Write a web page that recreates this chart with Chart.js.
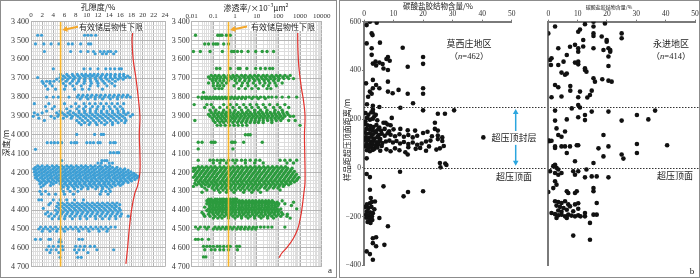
<!DOCTYPE html>
<html>
<head>
<meta charset="utf-8">
<script src="https://cdn.jsdelivr.net/npm/chart.js@4.4.1/dist/chart.umd.min.js"></script>
<style>
  body { margin: 0; background: #fff; }
  #wrap { position: relative; width: 700px; height: 278px; overflow: hidden; font-family: "Noto Sans CJK SC", sans-serif; color: #222; }
  canvas { position: absolute; top: 0; }
  .frame { position: absolute; top: 0; height: 278px; border: 1.5px solid #8c8c8c; box-sizing: border-box; pointer-events: none; }
  .t { position: absolute; white-space: nowrap; line-height: 1; transform: translate(-50%, -50%); }
  .num { font-family: "Liberation Serif", serif; }
  .ptick { position: absolute; top: 16px; font: 7px "Liberation Serif", serif; color: #333; line-height: 1; transform: translate(-50%, -50%); white-space: nowrap; }
</style>
</head>
<body>
<div id="wrap">
  <canvas id="poro" width="170" height="278" style="left:0"></canvas>
  <canvas id="perm" width="170" height="278" style="left:168px"></canvas>
  <canvas id="moxi" width="361" height="278" style="left:339px"></canvas>
  <canvas id="yong" width="180" height="278" style="left:520px"></canvas>

  <div class="frame" style="left:0;width:337px"></div>
  <div class="frame" style="left:339px;width:361px"></div>

  <div class="t" style="left:98px;top:7px;font-size:8px">孔隙度/%</div>
  <div class="t" style="left:256px;top:7px;font-size:8px">渗透率/×10<sup style="font-size:5px">−3</sup>μm<sup style="font-size:5px">2</sup></div>
  <div class="t" style="left:6px;top:143px;font-size:8px;transform:translate(-50%,-50%) rotate(-90deg)">深度/m</div>
  <div class="t" style="left:111px;top:27px;font-size:8px;background:#fff;padding:0 1px">有效储层物性下限</div>
  <div class="t" style="left:283px;top:27px;font-size:8px;background:#fff;padding:0 1px">有效储层物性下限</div>
  <div class="t num" style="left:330px;top:270px;font-size:9px">a</div>

  <div class="t" style="left:438px;top:6px;font-size:7.5px">碳酸盐胶结物含量/%</div>
  <div class="t" style="left:609px;top:6px;font-size:5px">碳酸盐胶结物含量/%</div>
  <div class="t" style="left:347px;top:140px;font-size:8px;transform:translate(-50%,-50%) rotate(-90deg)">样品距超压顶面距离/m</div>
  <div class="t" style="left:469px;top:43px;font-size:9px">莫西庄地区</div>
  <div class="t" style="left:469px;top:56px;font-size:8.5px">（<i class="num">n</i><span class="num">=462</span>）</div>
  <div class="t" style="left:671px;top:43px;font-size:9px">永进地区</div>
  <div class="t" style="left:671px;top:56px;font-size:8.5px">（<i class="num">n</i><span class="num">=414</span>）</div>
  <div class="t" style="left:514px;top:137px;font-size:9px">超压顶封层</div>
  <div class="t" style="left:514px;top:176px;font-size:9px">超压顶面</div>
  <div class="t" style="left:675px;top:175px;font-size:9px">超压顶面</div>
  <div class="t num" style="left:692px;top:271px;font-size:9px">b</div>
</div>

<script>
// 孔隙度 (%) : [深度, [孔隙度...]]
const poroRows = [
  [3472, [1.2, 1.9, 9.6, 10.2, 10.8, 11.6]],
  [3518, [0.8, 2.3, 3.6, 5.0, 6.7, 7.4, 8.9, 10.3, 10.7]],
  [3558, [2.4, 7.1, 8.9, 10.2, 11.2, 12.4, 13.1, 13.8, 14.3, 15.2]],
  [3570, [11.5, 12.8, 13.5, 14.8]],
  [3650, [4.0, 9.5, 10.6, 12.0, 13.4, 14.2, 15.0, 15.8, 16.2]],
  [3680, [5.3, 6.4, 7.4, 8.3, 9.1, 9.8, 10.6, 11.3, 12.0, 12.8, 13.6, 14.3, 15.1, 15.9, 16.6]],
  [3688, [5.8, 6.7, 7.6, 8.5, 9.4, 10.2, 11.0, 11.8, 12.6, 13.4, 14.2, 15.0, 15.8, 16.6, 17.3]],
  [3696, [1.2, 5.2, 6.1, 7.0, 7.9, 8.8, 9.7, 10.6, 11.5, 12.4, 13.3, 14.2, 15.1, 16.0, 16.9, 17.7]],
  [3705, [4.6, 5.6, 6.6, 7.6, 8.6, 9.6, 10.6, 11.6, 12.6, 13.6, 14.6, 15.6, 16.5]],
  [3716, [2.0, 2.8, 3.4, 4.1, 5.2, 6.3, 7.4, 8.5, 9.6, 10.7, 11.8, 12.9, 14.0, 15.1]],
  [3727, [2.2, 3.4, 5.8, 7.0, 8.2, 9.5, 10.8, 12.0, 13.2, 14.5]],
  [3740, [2.6, 3.8, 6.2, 7.5, 9.0, 10.6, 12.0, 13.6, 15.0]],
  [3758, [3.0, 4.4, 6.0, 7.8, 9.2, 10.4, 12.8]],
  [3790, [8.5, 9.3, 10.1, 10.9, 11.7, 12.5, 13.3, 14.1, 14.9, 15.7, 16.5, 17.3]],
  [3800, [2.8, 4.0, 4.9, 6.8, 8.3, 9.1, 9.9, 10.7, 11.5, 12.3, 13.1, 13.9, 14.7, 15.5, 16.3, 17.1, 17.8]],
  [3810, [8.8, 10.2, 11.5, 12.8, 14.2, 15.5]],
  [3835, [0.6, 3.2, 6.0, 8.0, 9.5, 10.5, 11.5, 12.5, 13.5, 14.5, 15.5, 16.6]],
  [3850, [2.6, 4.2, 7.2, 8.6, 9.8, 11.0, 12.0, 13.0, 14.0, 15.0, 16.0]],
  [3862, [3.8, 6.4, 8.2, 9.4, 10.6, 11.8, 13.0, 14.2, 15.4, 16.4]],
  [3874, [2.8, 5.2, 7.0, 8.6, 9.6, 10.6, 11.6, 12.6, 13.6, 14.6, 15.6, 16.6]],
  [3884, [0.6, 2.0, 4.6, 5.6, 6.6, 7.6, 8.6, 9.6, 10.6, 11.6, 12.6, 13.6, 14.6, 15.6, 16.6, 17.4]],
  [3893, [1.2, 5.0, 6.0, 7.0, 8.0, 9.0, 10.0, 11.0, 12.0, 13.0, 14.0, 15.0, 16.0, 17.0, 18.2]],
  [3902, [0.4, 3.6, 4.8, 6.4, 7.4, 8.4, 9.4, 10.4, 11.4, 12.4, 13.4, 14.4, 15.4, 16.4, 17.8]],
  [3912, [1.4, 4.2, 5.8, 7.2, 8.8, 9.8, 10.8, 11.8, 12.8, 13.8, 14.8, 15.8, 16.8]],
  [3924, [2.4, 8.2, 9.2, 10.2, 11.2, 12.2, 13.2, 14.2, 15.2, 16.2, 17.0]],
  [3936, [8.6, 9.6, 10.6, 11.6, 12.6, 13.6, 14.6, 15.6, 16.8]],
  [3946, [9.0, 10.4, 11.8, 13.2, 14.6]],
  [3998, [8.2, 11.4, 12.6, 13.0]],
  [4042, [2.9, 3.6, 4.2, 4.8, 5.5, 7.2, 7.8, 8.2, 10.0, 10.6, 11.2, 12.0, 12.4, 14.2, 14.8, 15.1]],
  [4077, [0.8]],
  [4095, [14.2, 14.8, 15.4, 15.7]],
  [4137, [5.5, 12.7, 13.2, 13.6]],
  [4150, [12.0, 12.6, 14.0, 14.6]],
  [4165, [1.2, 2.0, 2.9, 3.8, 4.6, 5.5, 6.4, 7.2, 8.1, 9.0, 9.8, 10.7, 11.5, 12.4, 13.3, 14.1]],
  [4173, [0.8, 1.6, 2.5, 3.3, 4.2, 5.0, 5.9, 6.8, 7.6, 8.5, 9.4, 10.2, 11.1, 12.0, 12.8, 13.7, 14.6, 15.4]],
  [4181, [0.5, 1.3, 2.1, 3.0, 3.9, 4.7, 5.6, 6.4, 7.3, 8.2, 9.0, 9.9, 10.8, 11.6, 12.5, 13.4, 14.2, 15.1, 16.0, 16.8]],
  [4189, [0.9, 1.8, 2.6, 3.5, 4.4, 5.2, 6.1, 7.0, 7.8, 8.7, 9.6, 10.4, 11.3, 12.2, 13.0, 13.9, 14.8, 15.6, 16.5, 17.4]],
  [4197, [0.6, 1.4, 2.3, 3.1, 4.0, 4.9, 5.7, 6.6, 7.5, 8.3, 9.2, 10.1, 10.9, 11.8, 12.7, 13.5, 14.4, 15.3, 16.1, 17.0, 17.9]],
  [4205, [1.0, 1.9, 2.8, 3.6, 4.5, 5.4, 6.2, 7.1, 8.0, 8.8, 9.7, 10.6, 11.4, 12.3, 13.2, 14.0, 14.9, 15.8, 16.6, 17.5, 18.4]],
  [4213, [0.7, 1.5, 2.4, 3.3, 4.1, 5.0, 5.9, 6.7, 7.6, 8.5, 9.3, 10.2, 11.1, 11.9, 12.8, 13.7, 14.5, 15.4, 16.3, 17.1, 18.0, 18.8]],
  [4221, [1.1, 2.0, 2.9, 3.7, 4.6, 5.5, 6.3, 7.2, 8.1, 8.9, 9.8, 10.7, 11.5, 12.4, 13.3, 14.1, 15.0, 15.9, 16.7, 17.6, 18.5, 19.2]],
  [4229, [0.8, 1.7, 2.5, 3.4, 4.3, 5.1, 6.0, 6.9, 7.7, 8.6, 9.5, 10.3, 11.2, 12.1, 12.9, 13.8, 14.7, 15.5, 16.4, 17.3, 18.1, 19.0]],
  [4237, [1.2, 2.1, 3.0, 3.8, 4.7, 5.6, 6.4, 7.3, 8.2, 9.0, 9.9, 10.8, 11.6, 12.5, 13.4, 14.2, 15.1, 16.0, 16.8, 17.7, 18.6]],
  [4245, [1.5, 2.4, 3.2, 4.1, 5.0, 5.8, 6.7, 7.6, 8.4, 9.3, 10.2, 11.0, 11.9, 12.8, 13.6, 14.5, 15.4, 16.2, 17.1, 18.0]],
  [4253, [1.9, 2.8, 3.6, 4.5, 5.4, 6.2, 7.1, 8.0, 8.8, 9.7, 10.6, 11.4, 12.3, 13.2, 14.0, 14.9, 15.8, 16.6, 17.4]],
  [4261, [1.6, 2.5, 4.0, 5.2, 6.0, 6.9, 7.8, 8.6, 9.5, 10.4, 11.2, 12.1, 13.0, 13.8, 14.7, 15.6, 16.4]],
  [4269, [2.2, 3.5, 5.5, 6.4, 7.3, 8.1, 9.0, 9.9, 10.7, 11.6, 12.5, 13.3, 14.2, 15.1, 16.0]],
  [4277, [1.8, 5.8, 6.7, 7.6, 8.4, 9.3, 10.2, 11.0, 11.9, 12.8, 13.6, 14.5]],
  [4287, [5.4, 6.6, 7.8, 9.0, 10.2, 11.6, 12.8, 14.0]],
  [4300, [1.6, 2.6, 5.8, 7.0, 8.4, 12.6, 13.4, 14.2]],
  [4315, [1.9, 3.2, 4.4, 6.0, 7.6, 12.4, 13.8]],
  [4345, [1.4, 1.9, 4.0, 5.2, 6.4, 7.8, 9.4]],
  [4362, [3.5, 4.8, 5.6, 6.5, 7.4, 8.3, 9.2, 10.1, 11.0, 11.9, 12.8, 13.7, 14.6, 15.4]],
  [4371, [3.2, 5.1, 6.0, 6.9, 7.8, 8.7, 9.6, 10.5, 11.4, 12.3, 13.2, 14.1, 15.0, 15.9]],
  [4380, [4.6, 5.5, 6.4, 7.3, 8.2, 9.1, 10.0, 10.9, 11.8, 12.7, 13.6, 14.5, 15.3]],
  [4390, [2.2, 5.0, 5.9, 6.8, 7.7, 8.6, 9.5, 10.4, 11.3, 12.2, 13.1, 14.0, 14.9, 15.8]],
  [4400, [4.4, 5.3, 6.2, 7.1, 8.0, 8.9, 9.8, 10.7, 11.6, 12.5, 13.4, 14.3, 15.2, 16.0]],
  [4410, [3.0, 4.8, 5.7, 6.6, 7.5, 8.4, 9.3, 10.2, 11.1, 12.0, 12.9, 13.8, 14.7, 15.6]],
  [4420, [2.6, 3.6, 4.6, 5.5, 6.4, 7.3, 8.2, 9.1, 10.0, 10.9, 11.8, 12.7, 13.6, 14.5, 15.4, 16.2]],
  [4432, [3.2, 4.2, 5.2, 6.1, 7.0, 7.9, 8.8, 9.7, 10.6, 11.5, 12.4, 13.3, 14.2, 15.1, 16.0, 17.4]],
  [4445, [3.8, 5.0, 6.0, 7.4, 8.8, 10.0, 11.6, 12.8, 14.0, 15.2]],
  [4490, [1.7, 2.6, 3.5, 4.4, 5.3, 6.2, 7.1, 8.0, 8.9, 9.8, 10.7, 11.6, 12.5, 13.4, 14.3, 15.1]],
  [4500, [1.4, 2.2, 3.0, 3.9, 4.8, 5.7, 6.6, 7.5, 8.4, 9.3, 10.2, 11.1, 12.0, 12.9, 13.8]],
  [4512, [2.0, 3.4, 4.6, 6.0, 8.6, 10.4, 12.2, 13.6]],
  [4555, [0.8, 1.7, 3.2, 3.5, 5.2, 8.6, 9.2]],
  [4568, [5.0, 5.4]],
  [4592, [3.2, 4.0, 4.9, 5.6, 8.0, 8.8, 9.6, 10.6, 11.4]],
  [4610, [2.8, 3.6, 4.5, 5.7, 7.8, 8.6, 9.4, 11.8, 14.8]],
  [4625, [3.4, 5.0, 8.2, 10.2]],
  [4650, [5.2, 8.4, 9.0]]
];

// 渗透率 (×10^-3 μm²) : [深度, [渗透率...]]
const permRows = [
  [3472, [0.015, 0.16, 0.2, 0.25, 0.4, 0.6]],
  [3518, [0.04, 0.06, 0.1, 0.13, 0.16, 0.3, 0.5]],
  [3558, [0.012, 0.025, 0.07, 0.26, 0.7, 0.9, 1.3, 2, 4, 9, 18, 30, 60]],
  [3648, [0.14, 0.2, 0.6, 1.4, 1.7, 3.5, 9, 15, 25, 40, 55]],
  [3685, [0.08, 0.12, 0.18, 0.3, 0.5, 0.8, 1.2, 2, 3, 5, 8, 12, 20, 30, 50, 80, 120, 200, 350]],
  [3693, [0.06, 0.1, 0.15, 0.22, 0.35, 0.6, 0.9, 1.5, 2.5, 4, 6, 10, 16, 25, 40, 60, 100, 160, 260]],
  [3702, [0.07, 0.1, 0.14, 0.2, 0.3, 0.45, 0.7, 1.1, 1.8, 3, 4.5, 7, 11, 18, 28, 45, 70, 110, 180, 300, 500]],
  [3712, [0.09, 0.13, 0.2, 0.3, 0.5, 1, 1.6, 2.8, 4.5, 8, 13, 22, 35, 60, 100]],
  [3725, [0.06, 0.1, 0.16, 0.25, 0.4, 1.2, 2.2, 3.8, 7, 14, 24, 40, 70, 150]],
  [3740, [0.1, 0.15, 0.2, 0.3, 0.9, 2, 4, 9, 20, 35, 80]],
  [3755, [0.12, 0.18, 0.25, 1.5, 3, 6, 12, 30, 45]],
  [3775, [0.035]],
  [3800, [0.02, 0.03, 0.04, 0.05, 0.07, 0.1, 0.13, 0.18, 0.25, 0.35, 0.5, 0.7, 1, 1.5, 2.2, 3.2, 4.5, 7, 10, 15, 22, 35, 50, 80, 150, 300, 700]],
  [3808, [0.03, 0.045, 0.06, 0.08, 0.11, 0.15, 0.2, 0.28, 0.4, 0.6, 0.9, 1.3, 2, 3, 6, 12, 25]],
  [3840, [0.013, 0.05, 0.08, 0.3, 0.6, 1.2, 2.5, 5, 10, 20, 40, 90, 200]],
  [3855, [0.04, 0.1, 0.2, 0.45, 0.8, 1.6, 3.2, 6, 12, 25, 60, 120, 300]],
  [3870, [0.07, 0.13, 0.3, 0.55, 1, 2, 4, 8, 15, 30, 70, 150]],
  [3882, [0.08, 0.12, 0.18, 0.27, 0.4, 0.6, 0.9, 1.4, 2.2, 3.3, 5, 8, 12, 18, 28, 42, 65, 100, 160, 250]],
  [3892, [0.06, 0.1, 0.15, 0.23, 0.35, 0.52, 0.8, 1.2, 1.8, 2.7, 4, 6, 9, 14, 21, 32, 50, 75, 115, 180, 280]],
  [3902, [0.07, 0.11, 0.17, 0.26, 0.4, 0.6, 0.9, 1.35, 2, 3, 4.6, 7, 10.5, 16, 24, 36, 55, 85, 130, 200, 350, 500]],
  [3912, [0.09, 0.14, 0.21, 0.32, 0.5, 0.75, 1.1, 1.7, 2.6, 3.9, 6, 9, 13.5, 20, 30, 46, 70, 105, 160]],
  [3924, [0.014, 0.1, 0.16, 0.25, 0.38, 0.6, 0.95, 1.5, 2.3, 3.5, 5.5, 8.5, 13, 20, 32, 50, 80, 130, 300, 600]],
  [3935, [0.12, 0.2, 0.3, 0.5, 0.8, 1.3, 2, 3.2, 5, 8, 12, 20, 50]],
  [3950, [0.15, 0.22, 0.35, 0.55, 0.9, 1.4, 2.2, 3.5, 1000]],
  [4000, [3, 4, 5]],
  [4040, [0.02, 0.03, 0.08, 0.1, 0.12, 0.7, 0.8, 1, 2.5, 18]],
  [4075, [0.02, 0.8]],
  [4135, [0.02, 0.07, 0.1, 0.15, 0.22, 0.3, 0.5, 0.8, 1.2, 2, 3, 5, 9, 14, 120, 200, 350, 700]],
  [4150, [0.1, 0.2, 0.4, 1, 3, 8, 20, 250, 500]],
  [4170, [0.02, 0.03, 0.048, 0.077, 0.12, 0.2, 0.31, 0.5, 0.8, 1.3, 2, 3.2, 5.1, 8.2, 13, 21, 33, 53, 85, 135, 215]],
  [4178, [0.012, 0.015, 0.024, 0.038, 0.06, 0.097, 0.15, 0.25, 0.39, 0.63, 1, 1.6, 2.5, 4, 6.4, 10, 16, 26, 42, 67, 107, 170, 270, 430]],
  [4186, [0.014, 0.022, 0.035, 0.055, 0.088, 0.14, 0.22, 0.35, 0.56, 0.9, 1.4, 2.2, 3.6, 5.7, 9, 14, 23, 37, 59, 95, 150, 240, 380]],
  [4194, [0.012, 0.019, 0.03, 0.048, 0.077, 0.12, 0.2, 0.31, 0.5, 0.8, 1.3, 2, 3.2, 5.1, 8.2, 13, 21, 33, 53, 85, 135, 215, 345, 550]],
  [4202, [0.017, 0.027, 0.043, 0.068, 0.11, 0.17, 0.28, 0.44, 0.7, 1.1, 1.8, 2.8, 4.5, 7.2, 11.5, 18, 29, 47, 75, 120, 190, 300, 480]],
  [4210, [0.015, 0.024, 0.038, 0.06, 0.097, 0.15, 0.25, 0.39, 0.63, 1, 1.6, 2.5, 4, 6.4, 10, 16, 26, 42, 67, 107, 170, 270, 430, 690]],
  [4218, [0.014, 0.022, 0.035, 0.055, 0.088, 0.14, 0.22, 0.35, 0.56, 0.9, 1.4, 2.2, 3.6, 5.7, 9, 14, 23, 37, 59, 95, 150, 240, 380, 600]],
  [4226, [0.012, 0.019, 0.03, 0.048, 0.077, 0.12, 0.2, 0.31, 0.5, 0.8, 1.3, 2, 3.2, 5.1, 8.2, 13, 21, 33, 53, 85, 135, 215, 345, 550, 880]],
  [4234, [0.017, 0.027, 0.043, 0.068, 0.11, 0.17, 0.28, 0.44, 0.7, 1.1, 1.8, 2.8, 4.5, 7.2, 11.5, 18, 29, 47, 75, 120, 190, 300, 480, 760]],
  [4242, [0.015, 0.024, 0.038, 0.06, 0.097, 0.15, 0.25, 0.39, 0.63, 1, 1.6, 2.5, 4, 6.4, 10, 16, 26, 42, 67, 107, 170, 270, 430, 690]],
  [4250, [0.02, 0.03, 0.048, 0.077, 0.12, 0.2, 0.31, 0.5, 0.8, 1.3, 2, 3.2, 5.1, 8.2, 13, 21, 33, 53, 85, 135, 215, 345, 550]],
  [4258, [0.014, 0.022, 0.035, 0.055, 0.088, 0.14, 0.22, 0.35, 0.56, 0.9, 1.4, 2.2, 3.6, 5.7, 9, 14, 23, 37, 59, 95, 150, 240, 380]],
  [4266, [0.017, 0.027, 0.043, 0.068, 0.11, 0.17, 0.28, 0.44, 0.7, 1.1, 1.8, 2.8, 4.5, 7.2, 11.5, 18, 29, 47, 75, 120, 190, 300]],
  [4274, [0.012, 0.03, 0.06, 0.097, 0.15, 0.25, 0.39, 0.63, 1, 1.6, 2.5, 4, 6.4, 10, 16, 26, 42, 67, 107, 170]],
  [4283, [0.04, 0.088, 0.14, 0.22, 0.35, 0.56, 0.9, 1.4, 2.2, 3.6, 5.7, 9, 14, 23, 37, 59, 95]],
  [4293, [0.05, 0.11, 0.17, 0.28, 0.44, 0.7, 1.1, 1.8, 2.8, 4.5, 7.2, 11.5, 30, 120]],
  [4305, [0.03, 0.2, 0.4, 0.9, 2.5, 6, 15]],
  [4342, [0.06, 0.08, 0.12, 0.15, 0.2, 0.25, 0.3, 0.4, 0.5, 0.6, 0.8, 1, 1.2]],
  [4350, [0.05, 0.07, 0.1, 0.14, 0.2, 0.28, 0.4, 0.56, 0.8, 1.1, 1.6, 2.2, 3.2, 4.5, 6.4, 9, 13, 18, 26, 36, 52, 150]],
  [4358, [0.06, 0.085, 0.12, 0.17, 0.24, 0.34, 0.48, 0.68, 0.96, 1.4, 1.9, 2.7, 3.8, 5.4, 7.6, 11, 15, 22, 31, 44, 62, 88, 500]],
  [4366, [0.05, 0.07, 0.1, 0.14, 0.2, 0.28, 0.4, 0.56, 0.8, 1.1, 1.6, 2.2, 3.2, 4.5, 6.4, 9, 13, 18, 26, 36, 52, 75, 105, 200]],
  [4375, [0.065, 0.09, 0.13, 0.18, 0.26, 0.37, 0.52, 0.74, 1.05, 1.5, 2.1, 3, 4.2, 6, 8.4, 12, 17, 24, 34, 48, 68, 96, 400]],
  [4384, [0.04, 0.07, 0.1, 0.14, 0.2, 0.28, 0.4, 0.56, 0.8, 1.1, 1.6, 2.2, 3.2, 4.5, 6.4, 9, 13, 18, 26, 36, 52, 75]],
  [4393, [0.06, 0.085, 0.12, 0.17, 0.24, 0.34, 0.48, 0.68, 0.96, 1.4, 1.9, 2.7, 3.8, 5.4, 7.6, 11, 15, 22, 31, 44, 62, 88, 130, 700]],
  [4402, [0.05, 0.07, 0.1, 0.14, 0.2, 0.28, 0.4, 0.56, 0.8, 1.1, 1.6, 2.2, 3.2, 4.5, 6.4, 9, 13, 18, 26, 36, 52, 75, 105]],
  [4412, [0.03, 0.065, 0.09, 0.13, 0.18, 0.26, 0.37, 0.52, 0.74, 1.05, 1.5, 2.1, 3, 4.2, 6, 8.4, 12, 17, 24, 34, 48, 68, 96, 140]],
  [4422, [0.035, 0.06, 0.1, 0.16, 0.25, 0.4, 0.64, 1, 1.6, 2.5, 4, 6.4, 10, 16, 25, 40, 64, 100, 160, 260]],
  [4432, [0.04, 0.07, 0.12, 0.2, 0.32, 0.5, 0.8, 1.3, 2, 3.2, 5, 8, 13, 20, 32, 50, 80, 130, 250]],
  [4442, [0.1, 0.16, 0.25, 0.5, 1, 2, 4, 8, 16, 32, 60, 350]],
  [4490, [0.015, 0.025, 0.04, 0.06, 0.12, 0.18, 0.27, 0.4, 0.6, 0.9, 1.4, 2, 3, 4.5, 7, 10, 15, 22, 33, 50, 200]],
  [4500, [0.02, 0.05, 0.1, 0.15, 0.22, 0.35, 0.5, 0.75, 1.2, 1.8, 2.7, 4, 6, 9]],
  [4555, [0.015, 0.02, 0.03, 0.06]],
  [4592, [0.035, 0.05, 0.07, 0.1, 0.15, 0.2, 0.3, 0.45, 0.6, 1.2, 1.6]],
  [4610, [0.04, 0.08, 0.12, 0.2, 0.3, 0.5, 1.3]],
  [4648, [0.035, 0.045]]
];

// 红色曲线
const poroCurve = [[18.2, 3460], [18.1, 3500], [18.3, 3600], [18.8, 3700], [19.2, 3800], [19.5, 3900], [19.4, 4000],
  [19.5, 4100], [19.5, 4200], [19.1, 4270], [18.6, 4310], [18.0, 4400], [17.6, 4500], [17.3, 4600], [17.0, 4685]];
const permCurve = [[780, 3460], [800, 3550], [900, 3650], [1150, 3750], [1450, 3820], [1700, 3900], [1600, 4000],
  [1650, 4100], [1700, 4250], [1500, 4310], [1200, 4400], [1000, 4450], [780, 4500], [490, 4550], [240, 4600], [140, 4630], [110, 4652]];

// 有效储层物性下限
const poroCutoff = 5.3;
const permCutoff = 0.5;

// 碳酸盐胶结物含量(%) vs 距超压顶面距离(m)
const moxiPoints = [
  [2.0, 600], [4.3, 596], [0.9, 586], [2.6, 552], [2.9, 545], [0.9, 511], [5.4, 514], [2.6, 491], [2.6, 464], [3.9, 436],
  [13.1, 493], [8.1, 455], [7.6, 447], [8.7, 440], [3.0, 428], [4.1, 420], [5.2, 432], [6.3, 426], [6.6, 408], [8.1, 402],
  [14.8, 415], [20.0, 455], [20.0, 427],
  [0.7, 347], [3.0, 361], [4.1, 340], [2.0, 313], [3.0, 327], [1.4, 292], [2.6, 304], [5.2, 327], [8.1, 354], [8.1, 313],
  [9.7, 306], [11.7, 320], [14.8, 304], [20.0, 327], [20.0, 304], [16.6, 265], [1.0, 261], [3.0, 255], [5.2, 250],
  [3.0, 240], [3.0, 228], [4.0, 218], [12.3, 247], [20.0, 236], [25.0, 222], [27.4, 222], [30.5, 236], [9.4, 205],
  [7.3, 185], [9.0, 175], [24.0, 185], [24.0, 160],
  [0.5, 225], [1.5, 218], [2.5, 228], [3.5, 212], [1.0, 205], [2.0, 198], [3.0, 202], [4.5, 195], [0.5, 190], [6.6, 185], [8.0, 178],
  [0.3, 180], [1.2, 175], [2.2, 172], [3.2, 168], [4.2, 176], [5.2, 165], [0.8, 160], [1.8, 158], [2.8, 155], [3.8, 150],
  [4.8, 158], [5.8, 152], [7.0, 160], [8.5, 150], [10.0, 158], [12.3, 160], [14.8, 154], [17.3, 153], [25.0, 153],
  [0.3, 145], [1.0, 140], [2.0, 142], [3.0, 138], [4.0, 145], [5.0, 135], [6.0, 140], [7.0, 132], [8.0, 142], [9.0, 136],
  [10.5, 130], [12.0, 138], [13.5, 128], [15.0, 135], [16.5, 125], [18.0, 132], [20.0, 143], [21.5, 148], [23.0, 130],
  [25.0, 133], [26.5, 125], [40.4, 125], [0.5, 125], [1.5, 122], [2.5, 128], [3.5, 120], [4.5, 126], [5.5, 118],
  [0.3, 115], [1.2, 112], [2.2, 108], [3.2, 114], [4.2, 105], [5.2, 110], [6.2, 102], [7.4, 108], [8.6, 112], [9.8, 104],
  [11.0, 110], [12.2, 100], [13.5, 106], [15.0, 98], [16.5, 104], [18.0, 95], [19.5, 100], [21.0, 108], [22.5, 112],
  [25.0, 118], [26.5, 110], [0.8, 98], [1.8, 94], [2.8, 100], [3.8, 92], [4.8, 96], [6.0, 90],
  [0.5, 88], [1.5, 82], [2.5, 86], [3.5, 78], [4.5, 84], [1.0, 72], [2.0, 68], [3.0, 74], [5.5, 70], [7.6, 76], [9.0, 68],
  [10.5, 80], [12.0, 72], [14.0, 64], [15.0, 85], [17.5, 78], [19.0, 82], [21.0, 70], [22.0, 88], [24.5, 75], [25.7, 80],
  [27.0, 90], [14.8, 55], [0.9, 39],
  [25.7, 20], [25.9, 2], [27.9, 12], [27.5, 18], [0.9, -25], [2.0, -38], [12.2, -16], [2.0, -90], [6.6, -76],
  [13.4, -117], [14.9, -99], [20.0, -96], [2.3, -124],
  [2.0, -145], [2.6, -140], [3.7, -138], [1.0, -150], [0.5, -160], [1.5, -165], [2.5, -160], [3.5, -170], [1.0, -178],
  [2.0, -182], [3.0, -186], [0.7, -192], [1.7, -196], [2.7, -200], [5.2, -206], [0.8, -205], [1.8, -210], [2.8, -214],
  [1.2, -222], [2.2, -226], [8.1, -240],
  [3.0, -289], [4.1, -285], [3.0, -309], [4.1, -322], [6.9, -316], [0.9, -343], [2.0, -354], [3.0, -377]
];
const yongjinPoints = [
  [2.3, 580], [0, 552], [19.3, 593], [15.4, 600], [15.4, 580], [12.5, 590], [10.8, 568], [10.2, 559], [15.4, 552], [15.4, 541],
  [25.0, 552], [25.0, 532], [18.2, 539], [19.9, 525], [19.9, 518], [20.5, 491], [21.1, 484], [21.1, 477], [11.9, 525],
  [11.9, 498], [9.1, 505], [7.4, 497], [10.2, 491], [10.2, 477], [3.4, 491], [15.4, 491], [18.8, 484],
  [1.1, 450], [0.6, 443], [0.9, 422], [3.4, 422], [6.3, 463], [5.2, 436], [9.1, 432], [10.2, 425], [10.2, 436],
  [20.5, 457], [20.5, 418], [12.5, 409], [13.0, 395], [12.5, 402], [4.5, 391], [5.7, 382], [6.3, 387],
  [15.4, 368], [15.9, 354], [18.4, 364], [20.5, 358], [21.6, 354], [2.3, 340], [3.4, 331], [7.5, 336], [7.5, 317],
  [1.1, 290], [4.5, 293], [10.8, 313], [10.2, 290], [13.3, 289], [14.8, 317], [14.2, 299], [10.2, 258], [10.8, 248], [8.0, 244],
  [2.3, 235], [6.3, 199], [10.2, 208], [12.5, 217], [14.8, 231], [12.5, 196], [20.5, 231], [25.0, 194], [30.2, 217],
  [34.1, 199], [36.4, 235], [2.3, 194], [2.8, 162], [3.4, 135], [4.5, 128], [5.7, 149], [18.8, 135],
  [0, 113], [0.6, 110], [0, 109], [1.1, 111], [2.3, 82], [2.3, 88], [4.5, 88], [5.7, 88], [7.4, 88], [9.7, 93], [10.2, 93],
  [6.3, 61], [9.1, 27], [15.4, 20], [17.1, 80], [20.5, 88], [18.8, 47], [25.0, 55], [25.6, 38], [30.2, 98], [30.2, 61], [40.5, 93],
  [2.3, 13], [2.8, 0], [3.4, -7], [0.6, -14], [1.7, 7], [2.3, -21], [3.4, -28], [4.5, -21], [8.5, -14], [10.2, -14], [13.0, -7],
  [9.1, -28], [12.5, -39], [14.8, -35], [16.5, -35], [20.5, -39], [2.3, -55], [2.8, -69], [1.7, -83],
  [6.3, -96], [6.8, -103], [9.1, -103], [9.7, -96], [15.4, -83], [15.4, -96], [0, -99],
  [2.3, -137], [3.4, -140], [4.5, -144], [5.7, -137], [6.8, -150], [2.8, -155], [4.0, -160], [5.2, -165], [7.4, -158],
  [9.1, -150], [10.2, -145], [3.4, -175], [4.5, -180], [6.3, -172], [8.5, -178], [10.2, -168], [1.1, -185], [2.3, -190],
  [3.4, -195], [4.5, -192], [5.7, -199], [6.8, -192], [7.9, -196], [9.1, -199], [10.2, -195], [11.0, -199], [2.8, -206],
  [6.3, -206], [16.5, -144], [12.5, -185], [12.5, -199], [15.4, -192], [16.5, -192], [14.2, -226], [8.5, -278], [14.2, -295]
];

// 刻度
const permLabels = [0.01, 0.1, 1, 10, 100, 1000, 10000];
const overpressureLines = [250, 0]; // 超压顶封层上界, 超压顶面

// 网格线位置
const depthGrid = [];
for (let d = 3400; d <= 4700; d += 20) depthGrid.push(d);
const poroGrid = [];
for (let i = 0; i <= 60; i++) poroGrid.push(Math.round(i * 4) / 10);
const permGrid = [];
permLabels.slice(0, -1).forEach(dec => { for (let k = 1; k <= 9; k++) permGrid.push(dec * k); });
permGrid.push(10000);

const serif = 'Liberation Serif';
const rowsToPoints = rows => rows.flatMap(([d, xs]) => xs.map(x => ({ x: x, y: d })));
const pairs = list => list.map(([x, y]) => ({ x: x, y: y }));
const decadeLabel = v => permLabels.find(l => Math.abs(v / l - 1) < 1e-3);

function noPad(s) { s.paddingLeft = 0; s.paddingRight = 0; s.paddingTop = 0; s.paddingBottom = 0; }

function depthAxis(w) {
  return {
    type: 'linear', reverse: true, min: 3400, max: 4700,
    afterBuildTicks: s => { s.ticks = depthGrid.map(v => ({ value: v })); },
    ticks: {
      autoSkip: false, padding: 2, color: '#333', font: { family: serif, size: 8 },
      callback: v => (v % 100 === 0 ? String(v).replace(/(\d)(\d{3})$/, '$1 $2') : '')
    },
    grid: { drawTicks: false, color: c => (c.tick && c.tick.value % 100 === 0 ? '#b5b5b5' : '#dddddd') },
    border: { color: '#b5b5b5' },
    afterFit: s => { s.width = w; noPad(s); }
  };
}

// 橙色箭头
function orangeArrow(scaleValue) {
  return {
    id: 'arrow' + scaleValue,
    afterDraw(chart) {
      const ctx = chart.ctx;
      const tipX = chart.scales.x.getPixelForValue(scaleValue) + 1.5;
      const tipY = 30, tailX = tipX + 17, tailY = 26.5;
      const ang = Math.atan2(tipY - tailY, tipX - tailX);
      ctx.save();
      ctx.strokeStyle = '#f4a72a';
      ctx.fillStyle = '#f4a72a';
      ctx.lineWidth = 2;
      ctx.beginPath();
      ctx.moveTo(tailX, tailY);
      ctx.lineTo(tipX + 4 * Math.cos(ang + Math.PI), tipY + 4 * Math.sin(ang + Math.PI));
      ctx.stroke();
      ctx.beginPath();
      ctx.moveTo(tipX, tipY);
      ctx.lineTo(tipX - 6 * Math.cos(ang - 0.5), tipY - 6 * Math.sin(ang - 0.5));
      ctx.lineTo(tipX - 6 * Math.cos(ang + 0.5), tipY - 6 * Math.sin(ang + 0.5));
      ctx.closePath();
      ctx.fill();
      ctx.restore();
    }
  };
}

const baseOptions = {
  responsive: false, animation: false, events: [],
  plugins: { legend: { display: false }, tooltip: { enabled: false } }
};

// a 孔隙度
new Chart(document.getElementById('poro'), {
  type: 'scatter',
  data: {
    datasets: [
      { data: [{ x: poroCutoff, y: 3400 }, { x: poroCutoff, y: 4700 }], showLine: true, borderColor: '#f6b42c', borderWidth: 1.6, pointRadius: 0 },
      { data: pairs(poroCurve), showLine: true, borderColor: '#e2332e', borderWidth: 1.2, pointRadius: 0, tension: 0.4 },
      { data: rowsToPoints(poroRows), pointRadius: 1.6, backgroundColor: '#3d9fd6', borderWidth: 0 }
    ]
  },
  options: {
    ...baseOptions,
    layout: { padding: { left: 0, top: 0, right: 5, bottom: 11.3 } },
    scales: {
      x: {
        type: 'linear', position: 'top', min: 0, max: 24,
        afterBuildTicks: s => { s.ticks = poroGrid.map(v => ({ value: v })); },
        ticks: { autoSkip: false, maxRotation: 0, padding: 2, color: '#333', font: { family: serif, size: 7 },
          callback: v => (Math.round(v * 10) % 20 === 0 ? String(Math.round(v)) : '') },
        grid: { drawTicks: false, color: c => (c.tick && Math.round(c.tick.value * 10) % 20 === 0 ? '#b5b5b5' : '#dddddd') },
        border: { color: '#b5b5b5' },
        afterFit: s => { s.height = 21.7; noPad(s); }
      },
      y: depthAxis(31)
    }
  },
  plugins: [orangeArrow(poroCutoff)]
});

// a 渗透率
const permChart = new Chart(document.getElementById('perm'), {
  type: 'scatter',
  data: {
    datasets: [
      { data: [{ x: permCutoff, y: 3400 }, { x: permCutoff, y: 4700 }], showLine: true, borderColor: '#f6b42c', borderWidth: 1.6, pointRadius: 0 },
      { data: pairs(permCurve), showLine: true, borderColor: '#e2332e', borderWidth: 1.2, pointRadius: 0, tension: 0.4 },
      { data: rowsToPoints(permRows), pointRadius: 1.7, backgroundColor: '#2c9b3e', borderWidth: 0 }
    ]
  },
  options: {
    ...baseOptions,
    layout: { padding: { left: 0, top: 0, right: 16.3, bottom: 11.3 } },
    scales: {
      x: {
        type: 'logarithmic', position: 'top', min: 0.01, max: 10000,
        afterBuildTicks: s => { s.ticks = permGrid.map(v => ({ value: v })); },
        ticks: { autoSkip: false, maxRotation: 0, padding: 2, color: '#333', font: { family: serif, size: 7 },
          callback: () => '' },
        grid: { drawTicks: false, color: c => (c.tick && decadeLabel(c.tick.value) !== undefined ? '#b0b0b0' : '#dddddd') },
        border: { color: '#b5b5b5' },
        afterFit: s => { s.height = 21.7; noPad(s); }
      },
      y: depthAxis(23.7)
    }
  },
  plugins: [orangeArrow(permCutoff)]
});

// 渗透率顶部刻度文字, 位置取自对数坐标轴
const wrap = document.getElementById('wrap');
const permLeft = 168;
permLabels.forEach(l => {
  const el = document.createElement('div');
  el.className = 'ptick';
  el.textContent = String(l);
  el.style.left = (permLeft + permChart.scales.x.getPixelForValue(l)) + 'px';
  wrap.appendChild(el);
});

// b 坐标轴
function cementAxis() {
  return {
    type: 'linear', position: 'top', min: 0, max: 50,
    ticks: { stepSize: 10, padding: 1, maxRotation: 0, color: '#333', font: { family: serif, size: 7.5 } },
    grid: { drawOnChartArea: false, tickLength: 2, color: '#777' },
    border: { color: '#7a7a7a', width: 2 },
    afterFit: s => { s.height = 21.7; noPad(s); }
  };
}

function blueArrow(ctx, x, y1, y2) {
  const dir = Math.sign(y2 - y1);
  ctx.beginPath();
  ctx.moveTo(x, y1);
  ctx.lineTo(x, y2 - dir * 4);
  ctx.stroke();
  ctx.beginPath();
  ctx.moveTo(x, y2);
  ctx.lineTo(x - 2.8, y2 - dir * 5);
  ctx.lineTo(x + 2.8, y2 - dir * 5);
  ctx.closePath();
  ctx.fill();
}

const overlayB = {
  id: 'overlayB',
  afterDraw(chart) {
    const { ctx, chartArea, scales } = chart;
    ctx.save();
    ctx.strokeStyle = '#333';
    ctx.lineWidth = 1;
    ctx.setLineDash([1.5, 1.5]);
    overpressureLines.forEach(v => {
      const y = Math.round(scales.y.getPixelForValue(v)) + 0.5;
      ctx.beginPath();
      ctx.moveTo(chartArea.left, y);
      ctx.lineTo(chart.width, y);
      ctx.stroke();
    });
    ctx.setLineDash([]);
    const ax = 176.7;
    const yTop = scales.y.getPixelForValue(overpressureLines[0]);
    const yBot = scales.y.getPixelForValue(overpressureLines[1]);
    ctx.strokeStyle = '#2ba6df';
    ctx.fillStyle = '#2ba6df';
    ctx.lineWidth = 1.5;
    blueArrow(ctx, ax, yTop + 24, yTop + 2);
    blueArrow(ctx, ax, yBot - 23, yBot - 2);
    ctx.restore();
  }
};

// b 莫西庄地区
new Chart(document.getElementById('moxi'), {
  type: 'scatter',
  data: { datasets: [{ data: pairs(moxiPoints), pointRadius: 2.3, backgroundColor: '#111', borderWidth: 0 }] },
  options: {
    ...baseOptions,
    layout: { padding: { left: 0, top: 0, right: 188.3, bottom: 12.7 } },
    scales: {
      x: cementAxis(),
      y: {
        type: 'linear', min: -400, max: 600,
        ticks: { stepSize: 200, padding: 1, color: '#333', font: { family: serif, size: 7.5 },
          callback: v => (v < 0 ? '−' + (-v) : String(v)) },
        grid: { drawOnChartArea: false, tickLength: 2, color: '#777' },
        border: { color: '#7a7a7a', width: 2 },
        afterFit: s => { s.width = 25; noPad(s); }
      }
    }
  },
  plugins: [overlayB]
});

// b 永进地区
new Chart(document.getElementById('yong'), {
  type: 'scatter',
  data: { datasets: [{ data: pairs(yongjinPoints), pointRadius: 2.3, backgroundColor: '#111', borderWidth: 0 }] },
  options: {
    ...baseOptions,
    layout: { padding: { left: 0, top: 0, right: 5, bottom: 12.7 } },
    scales: {
      x: cementAxis(),
      y: {
        type: 'linear', min: -400, max: 600,
        ticks: { display: false },
        grid: { display: false },
        border: { color: '#7a7a7a', width: 2 },
        afterFit: s => { s.width = 28.3; noPad(s); }
      }
    }
  }
});
</script>
</body>
</html>
